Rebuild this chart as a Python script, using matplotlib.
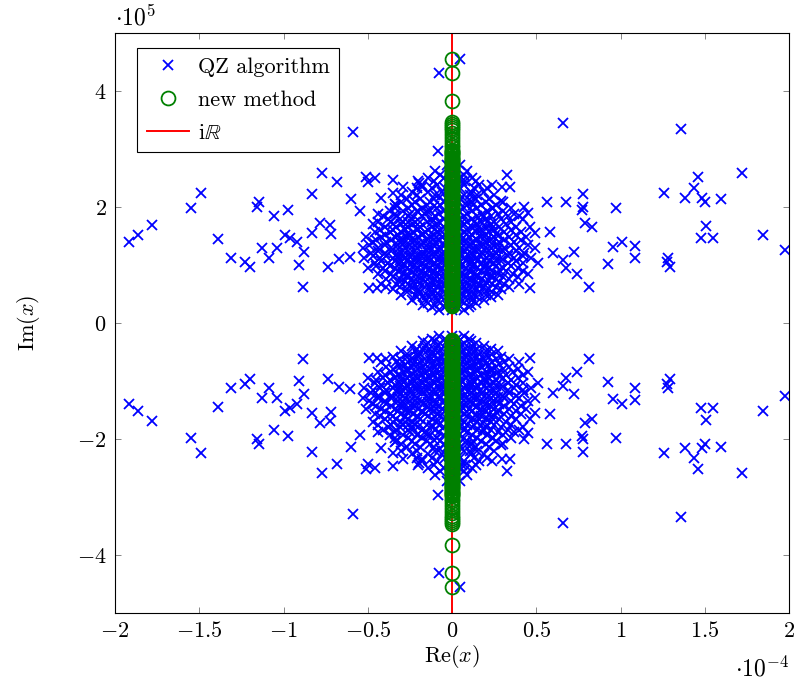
import matplotlib
matplotlib.use("Agg")
import matplotlib.pyplot as plt

plt.rcParams["font.family"] = ["cmr10", "DejaVu Serif"]
plt.rcParams["mathtext.fontset"] = "cm"
plt.rcParams["axes.formatter.use_mathtext"] = True

# QZ eigenvalues, upper half plane (Re in 1e-4, Im in 1e5); lower half is the mirror image
outer_re = [-1.917, -1.863, -1.780, -1.490, -1.549, -1.145, -1.157, -1.056, -1.389, -1.312,
            -1.228, -1.199, -1.128, -1.086, -1.039, -0.991, -0.588, -0.083, -0.772, -0.682,
            -0.831, -0.599, -0.510, -0.457, -0.499, -0.350, -0.291, -0.350, -0.421, -0.338,
            -0.196, -0.178, -0.973, -0.546, -0.202, -0.148, -0.107, -0.071, 0.659, 0.326,
            0.297, 0.344, 0.077, 0.107, 0.089, 0.125, 0.291, 0.243, 0.427, 0.451,
            0.564, 0.677, 0.777, 0.777, 0.772, 0.973, 0.184, 1.359, 1.721, 1.460,
            1.436, 1.258, 1.383, 1.484, 1.501, 1.596, 1.009, 1.086, 1.086, 1.282,
            1.276, 1.294, 1.507, 1.478, 1.549, 1.846, 1.976, 0.582, 0.831, 0.789,
            0.724, 0.599, 0.659, 0.677, 0.742, 0.813, 0.926, 0.955, 0.463, 0.493,
            0.510, -0.961, -0.920, -0.878, -0.908, -0.884, -0.831, -0.783, -0.724, -0.718,
            -0.736, -0.671, -0.605, -0.493, -0.445, 0.047, -0.077]
outer_im = [1.40, 1.52, 1.69, 2.24, 1.98, 2.09, 2.00, 1.84, 1.45, 1.12,
            1.05, 0.97, 1.29, 1.12, 1.29, 1.52, 3.29, 2.97, 2.59, 2.43,
            2.22, 2.14, 2.52, 2.50, 2.43, 2.47, 2.34, 2.24, 2.16, 2.05,
            2.41, 2.34, 1.95, 1.93, 1.91, 1.93, 2.02, 2.17, 3.45, 2.55,
            2.34, 2.34, 2.45, 2.21, 2.09, 2.03, 2.10, 1.98, 2.00, 1.90,
            2.09, 2.09, 2.22, 2.00, 1.95, 1.98, 1.83, 3.34, 2.59, 2.52,
            2.33, 2.24, 2.16, 2.16, 2.09, 2.14, 1.40, 1.33, 1.12, 1.12,
            1.05, 0.97, 1.67, 1.47, 1.47, 1.52, 1.26, 1.57, 1.66, 1.72,
            1.22, 1.21, 1.09, 0.95, 0.84, 0.62, 1.02, 1.31, 0.60, 1.55,
            1.03, 1.47, 1.40, 1.22, 1.00, 0.62, 1.55, 1.72, 1.69, 1.53,
            0.97, 1.10, 1.14, 0.60, 0.60, 4.55, 4.31]

# dense core near the imaginary axis (upper half), row by row
core_im = [2.72, 2.62, 2.50, 2.38, 2.26, 2.14, 2.03, 1.93, 1.84, 1.75, 1.66, 1.57, 1.48,
           1.39, 1.30, 1.21, 1.12, 1.03, 0.94, 0.85, 0.76, 0.67, 0.58, 0.49, 0.40, 0.31, 0.23]
core_re = [
    [-0.03, 0.05],
    [-0.10, 0.01, 0.09],
    [-0.14, -0.05, 0.04, 0.12],
    [-0.18, -0.09, -0.01, 0.07, 0.16, 0.24],
    [-0.24, -0.14, -0.06, 0.03, 0.11, 0.19],
    [-0.27, -0.19, -0.11, -0.03, 0.05, 0.14, 0.22],
    [-0.33, -0.24, -0.15, -0.07, 0.01, 0.09, 0.17, 0.26],
    [-0.37, -0.29, -0.21, -0.13, -0.05, 0.04, 0.12, 0.21, 0.30],
    [-0.41, -0.33, -0.26, -0.18, -0.10, -0.02, 0.07, 0.15, 0.23, 0.33, 0.40],
    [-0.44, -0.36, -0.29, -0.22, -0.15, -0.08, 0.01, 0.09, 0.17, 0.25, 0.35],
    [-0.40, -0.33, -0.26, -0.19, -0.12, -0.05, 0.04, 0.12, 0.20, 0.28, 0.38, 0.46],
    [-0.46, -0.37, -0.30, -0.23, -0.16, -0.09, -0.02, 0.07, 0.14, 0.22, 0.31, 0.41],
    [-0.51, -0.42, -0.34, -0.27, -0.20, -0.13, -0.06, 0.02, 0.10, 0.17, 0.25, 0.34, 0.44],
    [-0.47, -0.39, -0.31, -0.24, -0.17, -0.10, -0.03, 0.05, 0.12, 0.20, 0.28, 0.37],
    [-0.53, -0.44, -0.36, -0.28, -0.21, -0.14, -0.07, 0.01, 0.08, 0.15, 0.23, 0.31, 0.40, 0.49],
    [-0.48, -0.40, -0.32, -0.25, -0.18, -0.11, -0.04, 0.04, 0.11, 0.18, 0.26, 0.34, 0.43],
    [-0.52, -0.43, -0.35, -0.28, -0.21, -0.14, -0.07, 0.00, 0.07, 0.14, 0.21, 0.29, 0.37, 0.47],
    [-0.46, -0.38, -0.31, -0.24, -0.17, -0.10, -0.03, 0.04, 0.11, 0.18, 0.25, 0.33, 0.42],
    [-0.50, -0.41, -0.34, -0.27, -0.20, -0.13, -0.06, 0.01, 0.08, 0.15, 0.22, 0.30, 0.39],
    [-0.44, -0.36, -0.29, -0.22, -0.15, -0.08, -0.01, 0.06, 0.13, 0.20, 0.27, 0.36, 0.45],
    [-0.39, -0.31, -0.24, -0.17, -0.10, -0.03, 0.04, 0.11, 0.18, 0.26, 0.34],
    [-0.42, -0.33, -0.26, -0.19, -0.12, -0.05, 0.02, 0.09, 0.16, 0.24, 0.31, 0.40],
    [-0.35, -0.27, -0.20, -0.13, -0.06, 0.01, 0.08, 0.15, 0.22, 0.29],
    [-0.30, -0.22, -0.15, -0.08, -0.01, 0.06, 0.13, 0.20, 0.27],
    [-0.24, -0.16, -0.09, -0.02, 0.05, 0.12, 0.19],
    [-0.17, -0.10, -0.03, 0.04, 0.11],
    [-0.08, 0.00, 0.07],
]
# second, interleaved layer of the core
core2_im = [2.56, 2.44, 2.32, 2.20, 2.08, 1.98, 1.88, 1.79, 1.70, 1.61, 1.52, 1.43, 1.34,
            1.25, 1.16, 1.07, 0.98, 0.89, 0.80, 0.71, 0.62, 0.53, 0.44, 0.35, 0.27]
core2_re = [
    [-0.07, 0.00, 0.07],
    [-0.20, -0.11, -0.02, 0.06, 0.14],
    [-0.21, -0.12, -0.04, 0.05, 0.13, 0.21],
    [-0.30, -0.21, -0.10, -0.02, 0.07, 0.15, 0.25],
    [-0.30, -0.22, -0.13, -0.05, 0.04, 0.12, 0.20, 0.30],
    [-0.34, -0.26, -0.18, -0.09, -0.01, 0.07, 0.15, 0.24, 0.35],
    [-0.44, -0.34, -0.25, -0.16, -0.08, 0.01, 0.09, 0.18, 0.27, 0.37],
    [-0.38, -0.31, -0.24, -0.12, -0.05, 0.04, 0.12, 0.20, 0.29, 0.42],
    [-0.47, -0.35, -0.30, -0.23, -0.09, -0.02, 0.07, 0.15, 0.23, 0.32],
    [-0.43, -0.35, -0.28, -0.21, -0.14, -0.07, 0.01, 0.09, 0.17, 0.25, 0.35],
    [-0.40, -0.32, -0.25, -0.18, -0.11, -0.04, 0.05, 0.12, 0.20, 0.28, 0.38],
    [-0.45, -0.36, -0.29, -0.22, -0.15, -0.08, -0.01, 0.08, 0.15, 0.23, 0.31, 0.41],
    [-0.49, -0.40, -0.32, -0.25, -0.18, -0.11, -0.04, 0.04, 0.11, 0.19, 0.27, 0.35, 0.45],
    [-0.44, -0.36, -0.29, -0.22, -0.15, -0.08, -0.01, 0.07, 0.14, 0.22, 0.30, 0.38],
    [-0.47, -0.39, -0.32, -0.25, -0.18, -0.11, -0.04, 0.03, 0.10, 0.17, 0.25, 0.33, 0.42],
    [-0.42, -0.34, -0.27, -0.20, -0.13, -0.06, 0.01, 0.08, 0.15, 0.22, 0.29, 0.38],
    [-0.45, -0.37, -0.30, -0.23, -0.16, -0.09, -0.02, 0.05, 0.12, 0.19, 0.26, 0.35],
    [-0.40, -0.32, -0.25, -0.18, -0.11, -0.04, 0.03, 0.10, 0.17, 0.24, 0.32, 0.42],
    [-0.35, -0.27, -0.20, -0.13, -0.06, 0.01, 0.08, 0.15, 0.23, 0.30, 0.39],
    [-0.31, -0.23, -0.16, -0.09, -0.02, 0.05, 0.12, 0.20, 0.28],
    [-0.39, -0.31, -0.23, -0.16, -0.09, -0.02, 0.05, 0.12, 0.19, 0.26, 0.34],
    [-0.27, -0.19, -0.12, -0.05, 0.02, 0.09, 0.16, 0.24],
    [-0.21, -0.13, -0.06, 0.01, 0.08, 0.15, 0.23],
    [-0.14, -0.07, 0.00, 0.07, 0.14],
    [-0.12, -0.04, 0.03, 0.10],
]
# third layer: the very dense inner part of the core
core3_im = [1.75, 1.62, 1.54, 1.45, 1.36, 1.27, 1.18, 1.09, 1.00, 0.91, 0.82, 0.73,
            0.64, 0.55, 0.46]
core3_re = [
    [-0.26, -0.19, -0.12, 0.06, 0.13, 0.21],
    [-0.28, -0.20, -0.10, 0.05, 0.15, 0.23],
    [-0.27, -0.17, -0.07, 0.09, 0.17, 0.26],
    [-0.31, -0.24, -0.11, 0.06, 0.14, 0.21],
    [-0.29, -0.21, -0.14, -0.06, 0.08, 0.16, 0.24],
    [-0.32, -0.25, -0.12, 0.05, 0.12, 0.19, 0.27],
    [-0.29, -0.21, -0.15, -0.07, 0.06, 0.13, 0.22],
    [-0.31, -0.23, -0.16, -0.09, 0.04, 0.11, 0.19, 0.26],
    [-0.28, -0.19, -0.12, -0.05, 0.06, 0.13, 0.21],
    [-0.30, -0.22, -0.14, -0.07, 0.05, 0.12, 0.20, 0.28],
    [-0.26, -0.17, -0.10, 0.07, 0.15, 0.23],
    [-0.28, -0.20, -0.12, -0.06, 0.08, 0.14, 0.22],
    [-0.25, -0.13, -0.05, 0.07, 0.16],
    [-0.20, -0.10, 0.05, 0.12, 0.20],
    [-0.17, -0.10, 0.04, 0.11],
]

# new method: eigenvalues on the imaginary axis (upper half, Im in 1e5)
new_im = [4.55, 4.31, 3.83, 3.46, 3.43, 3.40, 3.36, 3.32, 3.27, 3.22, 3.17, 3.12, 3.07, 3.03,
          2.99, 2.97, 2.95, 2.93, 2.91, 2.89, 2.87, 2.85, 2.83, 2.81, 2.79, 2.77, 2.75, 2.73,
          2.71, 2.69, 2.67, 2.65, 2.63, 2.61, 2.59, 2.57, 2.55, 2.53, 2.51, 2.49, 2.47, 2.45,
          2.43, 2.41, 2.39, 2.37, 2.35, 2.33, 2.31, 2.29, 2.27, 2.25, 2.23, 2.21, 2.19, 2.17,
          2.15, 2.13, 2.11, 2.09, 2.07, 2.05, 2.03, 2.01, 1.99, 1.97, 1.95, 1.93, 1.91, 1.89,
          1.87, 1.85, 1.83, 1.81, 1.79, 1.77, 1.75, 1.73, 1.71, 1.69, 1.67, 1.65, 1.63, 1.61,
          1.59, 1.57, 1.55, 1.53, 1.51, 1.49, 1.47, 1.45, 1.43, 1.41, 1.39, 1.37, 1.35, 1.33,
          1.31, 1.29, 1.27, 1.25, 1.23, 1.21, 1.19, 1.17, 1.15, 1.13, 1.11, 1.09, 1.07, 1.05,
          1.03, 1.01, 0.99, 0.97, 0.95, 0.93, 0.91, 0.89, 0.87, 0.85, 0.83, 0.81, 0.79, 0.77,
          0.75, 0.73, 0.71, 0.69, 0.67, 0.65, 0.63, 0.61, 0.59, 0.57, 0.55, 0.53, 0.51, 0.49,
          0.47, 0.45, 0.43, 0.41, 0.39, 0.37, 0.35, 0.33, 0.31, 0.29]

x_ticks = [-2, -1.5, -1, -0.5, 0, 0.5, 1, 1.5, 2]
x_tick_labels = ["$-2$", "$-1.5$", "$-1$", "$-0.5$", "$0$", "$0.5$", "$1$", "$1.5$", "$2$"]
y_ticks = [-4, -2, 0, 2, 4]
y_tick_labels = ["$-4$", "$-2$", "$0$", "$2$", "$4$"]

# build full point sets (conjugate pairs)
up_re = list(outer_re)
up_im = list(outer_im)
rows = (list(zip(core_im, core_re)) + list(zip(core2_im, core2_re))
        + list(zip(core3_im, core3_re)))
for y, xs in rows:
    up_re += xs
    up_im += [y] * len(xs)
qz_re = up_re + up_re
qz_im = up_im + [-v for v in up_im]
nm_im = new_im + [-v for v in new_im]
nm_re = [0.0] * len(nm_im)

fig = plt.figure(figsize=(7.95, 6.93), dpi=100)
ax = fig.add_axes([0.1447, 0.1154, 0.8478, 0.8370])

ax.plot(qz_re, qz_im, "x", color="blue", ms=7.5, mew=1.3, ls="none",
        label="QZ algorithm", zorder=2)
ax.axvline(0, color="red", lw=1.4, zorder=2.5, label="i$\\mathbb{R}$")
ax.plot(nm_re, nm_im, "o", color="green", mfc="none", ms=10, mew=1.3, ls="none",
        label="new method", zorder=3)

ax.set_xlim(-2, 2)
ax.set_ylim(-5, 5)
ax.set_xticks(x_ticks)
ax.set_xticklabels(x_tick_labels)
ax.set_yticks(y_ticks)
ax.set_yticklabels(y_tick_labels)
ax.tick_params(direction="in", top=True, right=True, length=4, width=0.6,
               color="0.45", labelsize=16, pad=6)
for s in ax.spines.values():
    s.set_linewidth(0.8)

ax.set_xlabel("Re$(x)$", fontsize=16, labelpad=1)
ax.set_ylabel("Im$(x)$", fontsize=16, labelpad=25)

ax.text(0.0, 1.014, r"$\cdot 10^{5}$", transform=ax.transAxes, fontsize=17,
        ha="left", va="baseline")
ax.text(1.0, -0.109, r"$\cdot 10^{-4}$", transform=ax.transAxes, fontsize=17,
        ha="right", va="baseline")

h, l = ax.get_legend_handles_labels()
order = [0, 2, 1]
leg = ax.legend([h[i] for i in order], [l[i] for i in order], loc="upper left",
                bbox_to_anchor=(0.033, 0.974), fontsize=16, fancybox=False,
                edgecolor="black", framealpha=1, handlelength=1.9,
                handletextpad=0.4, borderpad=0.42, labelspacing=0.6,
                borderaxespad=0)
leg.get_frame().set_linewidth(0.8)

fig.savefig("out.png", dpi=100)
